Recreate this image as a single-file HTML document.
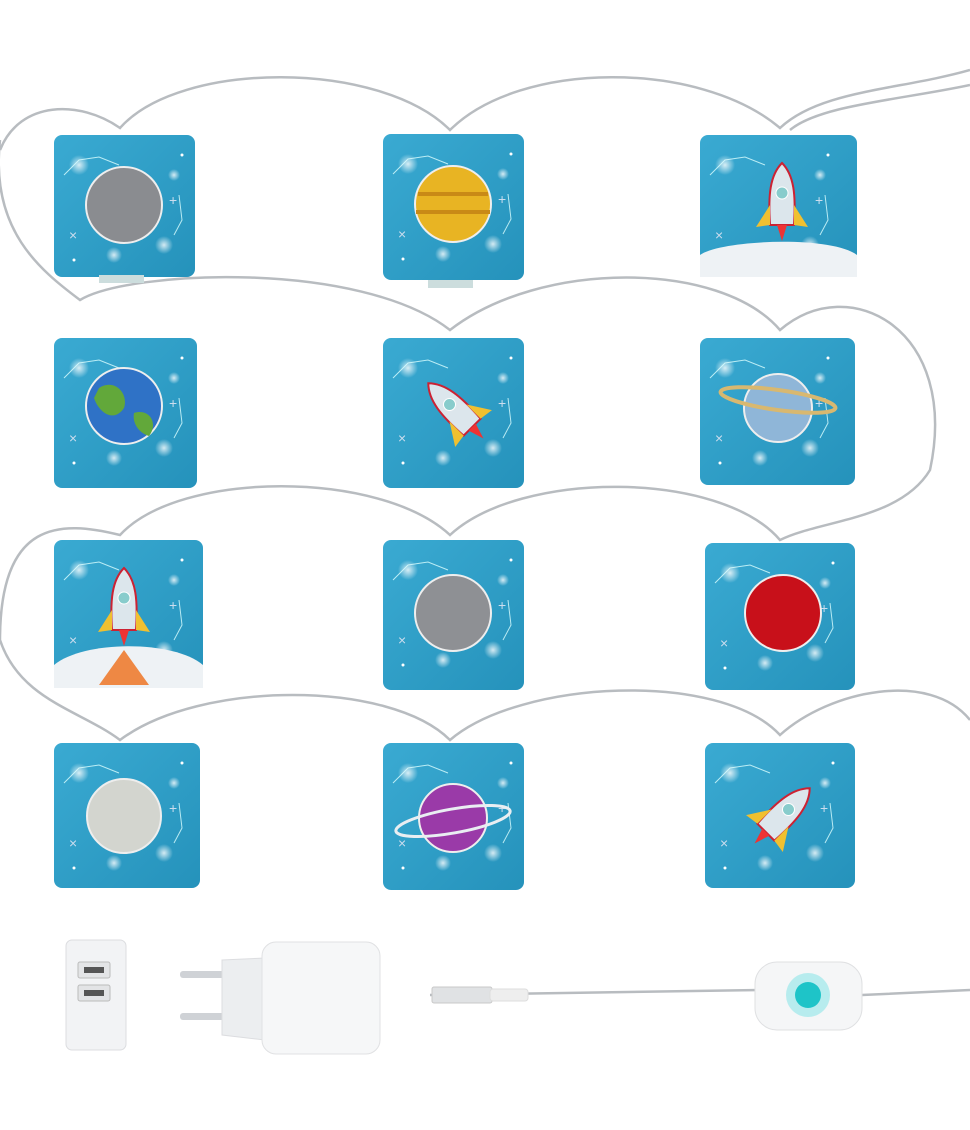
<!DOCTYPE html>
<html><head><meta charset="utf-8"><style>
html,body{margin:0;padding:0;background:#fff;width:970px;height:1130px;overflow:hidden}
</style></head><body>
<svg width="970" height="1130" viewBox="0 0 970 1130" xmlns="http://www.w3.org/2000/svg">
<defs>
<radialGradient id="glow"><stop offset="0" stop-color="#fff" stop-opacity=".8"/><stop offset="1" stop-color="#fff" stop-opacity="0"/></radialGradient>
<linearGradient id="cube" x1="0" y1="0" x2="1" y2="1"><stop offset="0" stop-color="#3aaad2"/><stop offset="1" stop-color="#2592bb"/></linearGradient>
<g id="deco">
<circle cx="25" cy="30" r="10" fill="url(#glow)"/><circle cx="110" cy="110" r="9" fill="url(#glow)"/><circle cx="60" cy="120" r="8" fill="url(#glow)"/><circle cx="120" cy="40" r="6" fill="url(#glow)"/>
<path d="M10 40 L25 25 L45 22 L65 30 M120 100 L128 85 L125 60" stroke="#dff" stroke-width="1" fill="none" opacity=".8"/>
<text x="15" y="105" fill="#cde" font-size="14" font-family="Liberation Sans">×</text>
<text x="115" y="70" fill="#cde" font-size="14" font-family="Liberation Sans">+</text>
<circle cx="20" cy="125" r="1.5" fill="#fff"/><circle cx="128" cy="20" r="1.5" fill="#fff"/>
</g>
<g id="rocket"><path d="M0 -42 C12 -30 14 -10 12 20 L-12 20 C-14 -10 -12 -30 0 -42Z" fill="#dce6ec" stroke="#c23" stroke-width="2"/><circle cy="-12" r="6" fill="#8cc" stroke="#fff"/><path d="M-12 0 L-26 22 L-12 20Z M12 0 L26 22 L12 20Z" fill="#f0c030"/><path d="M-5 20 L0 36 L5 20Z" fill="#e33"/></g>
</defs>
<!-- wires -->
<g fill="none" stroke="#b8bcc0" stroke-width="2.5">
<path d="M0 150 C20 100 80 100 120 128 C180 60 380 60 450 130 C520 60 700 60 780 128 C820 90 900 90 970 70"/>
<path d="M970 85 C900 100 820 105 790 130"/>
<path d="M0 140 C-10 230 40 270 80 300 C130 270 360 260 450 330 C540 260 720 260 780 330 C850 270 960 330 930 470 C900 520 820 520 780 540 C720 470 520 470 450 535 C380 470 180 470 120 535 C60 520 0 520 0 640 C20 700 80 710 120 740 C200 680 390 680 450 740 C520 680 720 670 780 735 C830 690 930 670 970 720"/>
<path d="M430 995 L760 990 M862 995 L970 990"/>
</g>
<!-- cubes -->
<g id="cubes">
<g transform="translate(54,135)"><rect width="141" height="142" rx="8" fill="url(#cube)"/><use href="#deco"/><circle cx="70" cy="70" r="38" fill="#8a8c90" stroke="#eee" stroke-width="2"/><rect x="45" y="140" width="45" height="8" fill="#cdd"/></g>
<g transform="translate(383,134)"><rect width="141" height="146" rx="8" fill="url(#cube)"/><use href="#deco"/><circle cx="70" cy="70" r="38" fill="#e8b423" stroke="#eee" stroke-width="2"/><path d="M35 60 H105 M33 78 H107" stroke="#c98a16" stroke-width="4"/><rect x="45" y="146" width="45" height="8" fill="#cdd"/></g>
<g transform="translate(700,135)"><rect width="157" height="142" rx="8" fill="url(#cube)"/><use href="#deco"/><path d="M0 120 C20 105 130 100 157 120 V142 H0Z" fill="#eef2f5"/><use href="#rocket" transform="translate(82,70)"/></g>

<g transform="translate(54,338)"><rect width="143" height="150" rx="8" fill="url(#cube)"/><use href="#deco"/><circle cx="70" cy="68" r="38" fill="#2f72c6" stroke="#eee" stroke-width="2"/><path d="M45 50 C60 40 75 55 70 70 C60 85 45 75 40 60Z M80 75 C95 70 105 85 95 98 C85 95 78 85 80 75Z" fill="#62a83a"/></g>
<g transform="translate(383,338)"><rect width="141" height="150" rx="8" fill="url(#cube)"/><use href="#deco"/><use href="#rocket" transform="translate(75,75) rotate(-45)"/></g>
<g transform="translate(700,338)"><rect width="155" height="147" rx="8" fill="url(#cube)"/><use href="#deco"/><circle cx="78" cy="70" r="34" fill="#8fb6d8" stroke="#eee" stroke-width="2"/><ellipse cx="78" cy="62" rx="58" ry="10" fill="none" stroke="#d8b870" stroke-width="4" transform="rotate(8 78 62)"/></g>

<g transform="translate(54,540)"><rect width="149" height="148" rx="8" fill="url(#cube)"/><use href="#deco"/><path d="M0 125 C30 100 120 100 149 125 V148 H0Z" fill="#eef2f5"/><use href="#rocket" transform="translate(70,70)"/><path d="M45 145 L70 110 L95 145Z" fill="#e84"/></g>
<g transform="translate(383,540)"><rect width="141" height="150" rx="8" fill="url(#cube)"/><use href="#deco"/><circle cx="70" cy="73" r="38" fill="#8e9094" stroke="#eee" stroke-width="2"/></g>
<g transform="translate(705,543)"><rect width="150" height="147" rx="8" fill="url(#cube)"/><use href="#deco"/><circle cx="78" cy="70" r="38" fill="#c8101a" stroke="#eee" stroke-width="2"/></g>

<g transform="translate(54,743)"><rect width="146" height="145" rx="8" fill="url(#cube)"/><use href="#deco"/><circle cx="70" cy="73" r="37" fill="#d3d5cf" stroke="#eee" stroke-width="2"/></g>
<g transform="translate(383,743)"><rect width="141" height="147" rx="8" fill="url(#cube)"/><use href="#deco"/><circle cx="70" cy="75" r="34" fill="#9a3aa8" stroke="#eee" stroke-width="2"/><ellipse cx="70" cy="78" rx="58" ry="12" fill="none" stroke="#e9eef2" stroke-width="3" transform="rotate(-10 70 78)"/></g>
<g transform="translate(705,743)"><rect width="150" height="145" rx="8" fill="url(#cube)"/><use href="#deco"/><use href="#rocket" transform="translate(75,75) rotate(45)"/></g>
</g>
<!-- bottom accessories -->
<rect x="66" y="940" width="60" height="110" rx="6" fill="#f2f3f5" stroke="#dcdde0"/>
<rect x="78" y="962" width="32" height="16" rx="2" fill="#e3e4e6" stroke="#bbb"/><rect x="84" y="967" width="20" height="6" fill="#555"/>
<rect x="78" y="985" width="32" height="16" rx="2" fill="#e3e4e6" stroke="#bbb"/><rect x="84" y="990" width="20" height="6" fill="#555"/>
<rect x="180" y="971" width="45" height="7" rx="3" fill="#cfd2d6"/><rect x="180" y="1013" width="45" height="7" rx="3" fill="#cfd2d6"/>
<path d="M222 960 L265 958 L265 1040 L222 1035Z" fill="#eceef0" stroke="#dcdde0"/>
<rect x="262" y="942" width="118" height="112" rx="14" fill="#f6f7f8" stroke="#e0e1e3"/>
<rect x="432" y="987" width="60" height="16" rx="2" fill="#e0e2e4" stroke="#c8c8c8"/><rect x="490" y="989" width="38" height="12" rx="3" fill="#eee" stroke="#ddd"/>
<rect x="755" y="962" width="107" height="68" rx="22" fill="#f5f6f7" stroke="#dfe0e2"/>
<circle cx="808" cy="995" r="22" fill="#8ee6e8" opacity=".6"/><circle cx="808" cy="995" r="13" fill="#1ec4c8"/>
</svg>
</body></html>
